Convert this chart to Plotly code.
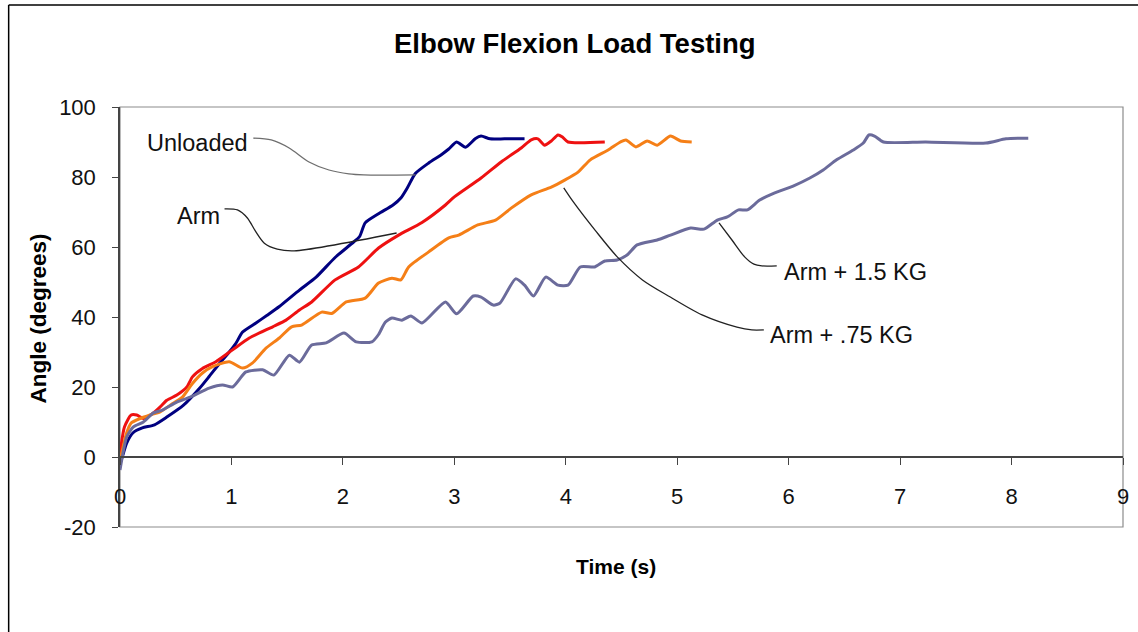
import plotly.graph_objects as go

# ---- data ----
unloaded_t = [0, 0.03, 0.06, 0.12, 0.2, 0.31, 0.42, 0.57, 0.71, 0.8, 0.9, 0.98, 1.04, 1.1, 1.22, 1.32, 1.43,
              1.61, 1.76, 1.93, 2.08, 2.15, 2.2, 2.32, 2.45, 2.52, 2.58, 2.65, 2.77, 2.88, 2.95, 3.02, 3.1,
              3.19, 3.24, 3.32, 3.45, 3.63]
unloaded_a = [-2, 1, 4, 7, 8.3, 9.2, 11.4, 14.8, 19.5, 23, 27, 30, 32.5, 35.7, 38.3, 40.5, 43,
              47.7, 51.4, 57, 61, 63, 66.9, 69.5, 72, 74, 77, 81, 84, 86.3, 88, 90, 88.5,
              91, 91.7, 90.9, 90.9, 90.9]

arm_t = [0, 0.04, 0.1, 0.15, 0.21, 0.3, 0.36, 0.42, 0.51, 0.6, 0.65, 0.74, 0.86, 1.01, 1.16, 1.37, 1.49,
         1.61, 1.72, 1.93, 2.14, 2.32, 2.5, 2.71, 2.92, 3.0, 3.24, 3.42, 3.6, 3.69, 3.75, 3.81, 3.87,
         3.93, 3.97, 4.02, 4.35]
arm_a = [1, 8.6, 12, 12, 11, 12.6, 14.3, 16.2, 17.7, 20, 22.9, 25.3, 27.2, 30.6, 34, 37.2, 39.1,
         42, 44.3, 50.6, 54.3, 59.7, 63.4, 67, 72, 74.3, 79.7, 84.3, 88.3, 90.6, 90.9, 89.1, 90.3,
         92, 91.4, 90, 90]

arm075_t = [0, 0.06, 0.1, 0.18, 0.27, 0.36, 0.46, 0.56, 0.65, 0.74, 0.83, 0.98, 1.1, 1.19, 1.31, 1.43,
            1.54, 1.63, 1.81, 1.9, 2.03, 2.2, 2.32, 2.44, 2.52, 2.59, 2.77, 2.95, 3.04, 3.21, 3.37,
            3.51, 3.69, 3.87, 3.99, 4.11, 4.22, 4.38, 4.49, 4.54, 4.63, 4.73, 4.82, 4.94, 5.03, 5.13]
arm075_a = [-1, 6.9, 9.7, 11, 12, 12.9, 15, 17.1, 21, 24, 25.8, 27.2, 25.4, 26.9, 31.1, 34,
            37.2, 37.7, 41.4, 41, 44.3, 45.4, 49.7, 51.1, 50.6, 54.3, 58.6, 62.6, 63.4, 66.3, 67.7,
            71.1, 74.9, 77.1, 79.1, 81.4, 84.9, 87.7, 90, 90.6, 88.6, 90.3, 89.1, 91.7, 90.3, 90]

arm15_t = [0, 0.06, 0.12, 0.21, 0.3, 0.38, 0.51, 0.63, 0.8, 0.92, 1.01, 1.13, 1.28, 1.38, 1.52, 1.61,
           1.72, 1.85, 2.01, 2.12, 2.26, 2.32, 2.38, 2.44, 2.53, 2.61, 2.71, 2.92, 3.02, 3.17, 3.24,
           3.35, 3.41, 3.55, 3.63, 3.71, 3.82, 3.93, 4.02, 4.13, 4.26, 4.35, 4.46, 4.55, 4.64, 4.82,
           4.94, 5.12, 5.24, 5.36, 5.45, 5.55, 5.63, 5.74, 5.87, 6.04, 6.19, 6.31, 6.43, 6.58, 6.67,
           6.72, 6.77, 6.85, 7.23, 7.77, 7.95, 8.15]
arm15_a = [-3.7, 5.7, 8.6, 10, 12.6, 13.4, 15.7, 17.1, 19.7, 20.6, 20, 24.3, 24.9, 23.4, 29.1, 27.1,
           32, 32.6, 35.4, 32.9, 32.9, 35, 38.5, 39.7, 39.1, 40.3, 38.3, 44.3, 40.9, 46, 45.7,
           43.4, 44, 50.9, 49.1, 46, 51.4, 49.1, 49.1, 54.3, 54.3, 56, 56.3, 57.7, 60.6, 62,
           63.4, 65.4, 65.1, 67.7, 68.6, 70.6, 70.6, 73.4, 75.4, 77.4, 79.7, 82, 84.9, 87.7, 89.7,
           92, 91.7, 90, 90, 89.7, 90.9, 91.1]

series_names = ["Unloaded", "Arm", "Arm + .75 KG", "Arm + 1.5 KG"]
series_colors = ["#000080", "#ee1111", "#f57f17", "#6b6b9b"]

y_tick_vals = [-20, 0, 20, 40, 60, 80, 100]
y_tick_text = ["-20", "0", "20", "40", "60", "80", "100"]

# annotation leader lines (data coordinates)
lead_unloaded_t = [1.196, 1.357, 1.518, 1.696, 1.875, 2.054, 2.188, 2.652]
lead_unloaded_a = [91.1, 90.6, 88.3, 84.3, 82.0, 80.9, 80.6, 80.6]
lead_arm_t = [0.938, 1.054, 1.143, 1.214, 1.295, 1.411, 1.563, 2.482]
lead_arm_a = [70.9, 70.6, 68.3, 64.6, 61.1, 59.4, 58.9, 64.0]
lead_075_t = [3.982, 4.063, 4.268, 4.464, 4.688, 4.938, 5.223, 5.536, 5.670, 5.777]
lead_075_a = [76.9, 73.1, 64.6, 57.1, 50.6, 45.7, 40.6, 37.1, 36.3, 36.3]
lead_15_t = [5.375, 5.491, 5.607, 5.688, 5.759, 5.893]
lead_15_a = [66.9, 62.0, 57.1, 55.1, 54.6, 54.6]

font_family = "Liberation Sans, Arial, sans-serif"

fig = go.Figure()
for t, a, name, col in zip([unloaded_t, arm_t, arm075_t, arm15_t],
                           [unloaded_a, arm_a, arm075_a, arm15_a],
                           series_names, series_colors):
    fig.add_trace(go.Scatter(x=t, y=a, mode="lines", name=name,
                             line=dict(color=col, width=3, shape="spline", smoothing=0.6),
                             showlegend=False))

for lt, la, col in [(lead_unloaded_t, lead_unloaded_a, "#6e6e6e"),
                    (lead_arm_t, lead_arm_a, "#222222"),
                    (lead_075_t, lead_075_a, "#222222"),
                    (lead_15_t, lead_15_a, "#222222")]:
    fig.add_trace(go.Scatter(x=lt, y=la, mode="lines", showlegend=False, hoverinfo="skip",
                             line=dict(color=col, width=1.3, shape="spline", smoothing=0.8)))

label_font = dict(family=font_family, size=23.5, color="#111111")
labels = [("Unloaded", 0.225, 89.7), ("Arm", 0.495, 68.9),
          ("Arm + 1.5 KG", 5.94, 52.9), ("Arm + .75 KG", 5.815, 34.9)]
for txt, x, y in labels:
    fig.add_annotation(x=x, y=y, xref="x", yref="y", text=txt, showarrow=False,
                       xanchor="left", yanchor="middle", font=label_font)

# titles
fig.add_annotation(x=0.454, y=1.152, xref="paper", yref="paper", text="<b>Elbow Flexion Load Testing</b>",
                   showarrow=False, xanchor="center", yanchor="middle",
                   font=dict(family=font_family, size=27.5, color="#000000"))
fig.add_annotation(x=0.4945, y=-0.0929, xref="paper", yref="paper", text="<b>Time (s)</b>",
                   showarrow=False, xanchor="center", yanchor="middle",
                   font=dict(family=font_family, size=21, color="#000000"))
fig.add_annotation(x=-0.0813, y=0.4976, xref="paper", yref="paper", text="<b>Angle (degrees)</b>",
                   showarrow=False, xanchor="center", yanchor="middle", textangle=-90,
                   font=dict(family=font_family, size=22.5, color="#000000"))

# plot area border and outer frame
fig.add_shape(type="rect", xref="paper", yref="paper", x0=0, x1=1, y0=0, y1=1,
              line=dict(color="#8c8c8c", width=1.2), layer="below")
fig.add_shape(type="line", xref="paper", yref="paper", x0=-0.111, x1=1.02, y0=1.243, y1=1.243,
              line=dict(color="#000000", width=1.5))
fig.add_shape(type="line", xref="paper", yref="paper", x0=-0.111, x1=-0.111, y0=1.243, y1=-0.26,
              line=dict(color="#000000", width=1.5))

fig.update_layout(
    width=1138, height=632,
    margin=dict(l=120, r=9, t=107, b=105),
    paper_bgcolor="white", plot_bgcolor="white",
    font=dict(family=font_family, size=22, color="#111111"),
    xaxis=dict(range=[0, 9], dtick=1, tick0=0, anchor="free", position=70 / 420,
               showline=True, linecolor="#444444", linewidth=1.5,
               ticks="outside", ticklen=7, tickcolor="#444444", tickwidth=1.2,
               showgrid=False, zeroline=False, ticklabelstandoff=13,
               tickfont=dict(family=font_family, size=22, color="#111111")),
    yaxis=dict(range=[-20, 100], tickmode="array", tickvals=y_tick_vals, ticktext=y_tick_text,
               showline=True, linecolor="#444444", linewidth=1.5,
               ticks="outside", ticklen=6, tickcolor="#444444", tickwidth=1.2,
               showgrid=False, zeroline=False, ticklabelstandoff=12,
               tickfont=dict(family=font_family, size=22, color="#111111")),
    showlegend=False,
)

fig.write_html("out.html", config={"displayModeBar": False},
               post_script="document.body.style.margin='0';document.body.style.overflow='hidden';")
